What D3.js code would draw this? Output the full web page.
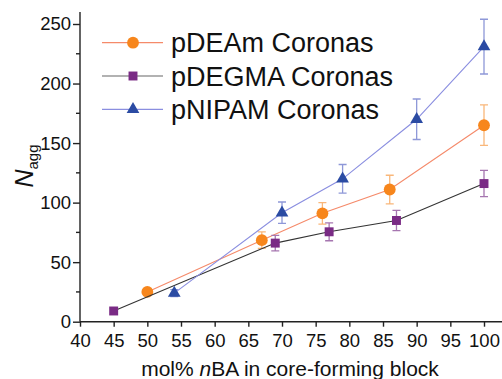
<!DOCTYPE html>
<html>
<head>
<meta charset="utf-8">
<script src="https://cdn.jsdelivr.net/npm/d3@7"></script>
<style>
  body { margin: 0; background: #fff; }
  text { font-family: "Liberation Sans", Arial, sans-serif; }
</style>
</head>
<body>
<div id="chart"></div>
<script>
// series data: x = mol% nBA, y = Nagg, e = error
const deamX = [50, 67, 76, 86, 100];
const deamY = [25, 68.5, 91, 111, 165];
const deamErr = [0, 7, 9, 12, 17];

const degmaX = [45, 69, 77, 87, 100];
const degmaY = [9, 66, 75.5, 85, 116];
const degmaErr = [0, 6.5, 7.5, 8.5, 11];

const nipamX = [54, 70, 79, 90, 100];
const nipamY = [24, 91.5, 120, 170, 231];
const nipamErr = [3, 9, 12, 17, 23];

const seriesNames = ["pDEAm Coronas", "pDEGMA Coronas", "pNIPAM Coronas"];
const xTicks = [40, 45, 50, 55, 60, 65, 70, 75, 80, 85, 90, 95, 100];
const yTicks = [0, 50, 100, 150, 200, 250];
const yMinorTicks = [25, 75, 125, 175, 225];

const W = 502, H = 379;
const margin = {left: 80, top: 12, right: 0, bottom: 57};

const x = d3.scaleLinear().domain([40, 100]).range([80, 484]);
const y = d3.scaleLinear().domain([0, 250]).range([321.7, 24]);

const svg = d3.select("#chart").append("svg")
  .attr("width", W).attr("height", H);

// axes
const xAxis = d3.axisBottom(x).tickValues(xTicks).tickSize(5).tickSizeOuter(0);
const gx = svg.append("g").attr("transform", "translate(0," + y(0) + ")").call(xAxis);
gx.select(".domain").attr("d", "M" + x(40) + ",0H" + W);

const yAxis = d3.axisLeft(y).tickValues(yTicks).tickSize(7).tickSizeOuter(0);
const gy = svg.append("g").attr("transform", "translate(" + x(40) + ",0)").call(yAxis);
gy.select(".domain").attr("d", "M0," + y(0) + "V" + margin.top);
gy.selectAll(".minor").data(yMinorTicks).enter().append("line")
  .attr("class", "minor").attr("x1", -4).attr("x2", 0)
  .attr("y1", d => y(d)).attr("y2", d => y(d)).attr("stroke", "#000");

[gx, gy].forEach(g => {
  g.selectAll("path, line").attr("stroke", "#222").attr("stroke-width", 1.4);
  g.selectAll("text").attr("font-size", 18.5).attr("fill", "#111");
});
gx.selectAll("text").attr("dy", "0.95em");
gy.selectAll("text").attr("x", -9);

// axis titles
const xt = svg.append("text").attr("x", 290).attr("y", 376)
  .attr("text-anchor", "middle").attr("font-size", 21).attr("fill", "#111");
xt.append("tspan").text("mol% ");
xt.append("tspan").attr("font-style", "italic").text("n");
xt.append("tspan").text("BA in core-forming block");

const yt = svg.append("text").attr("transform", "translate(33,166) rotate(-90)")
  .attr("text-anchor", "middle").attr("font-size", 25).attr("fill", "#111");
yt.append("tspan").attr("font-style", "italic").text("N");
yt.append("tspan").attr("font-size", 15).attr("dy", 5).text("agg");

const series = [
  {xs: deamX, ys: deamY, es: deamErr, line: "#f58a6a", mark: "#f7861c", err: "#f9b77a", shape: d3.symbolCircle, size: 110},
  {xs: degmaX, ys: degmaY, es: degmaErr, line: "#333", mark: "#7a2b85", err: "#a676b0", shape: d3.symbolSquare, size: 80},
  {xs: nipamX, ys: nipamY, es: nipamErr, line: "#8a8ee0", mark: "#2b4ba3", err: "#8e98d8", shape: d3.symbolTriangle, size: 70}
];

const line = d3.line().x(d => x(d[0])).y(d => y(d[1]));

series.forEach(s => {
  const pts = s.xs.map((v, i) => [v, s.ys[i], s.es[i]]);
  const g = svg.append("g");
  // error bars
  pts.filter(d => d[2] > 0).forEach(d => {
    const cx = x(d[0]), t = y(d[1] + d[2]), b = y(d[1] - d[2]);
    g.append("path")
      .attr("d", "M" + cx + "," + t + "V" + b + "M" + (cx - 4) + "," + t + "H" + (cx + 4) + "M" + (cx - 4) + "," + b + "H" + (cx + 4))
      .attr("stroke", s.err).attr("stroke-width", 1.3).attr("fill", "none");
  });
  g.append("path").datum(pts).attr("d", line)
    .attr("stroke", s.line).attr("stroke-width", 1.1).attr("fill", "none");
  g.selectAll(".m").data(pts).enter().append("path")
    .attr("transform", d => "translate(" + x(d[0]) + "," + y(d[1]) + ")")
    .attr("d", d3.symbol().type(s.shape).size(s.size))
    .attr("fill", s.mark);
});

// legend
const legY = [42.7, 76, 109.3];
series.forEach((s, i) => {
  const lg = svg.append("g").attr("transform", "translate(0," + legY[i] + ")");
  lg.append("line").attr("x1", 102).attr("x2", 163).attr("y1", 0).attr("y2", 0)
    .attr("stroke", i === 1 ? "#999" : s.line).attr("stroke-width", 1.3);
  lg.append("path").attr("transform", "translate(133,0)")
    .attr("d", d3.symbol().type(s.shape).size(s.size)).attr("fill", s.mark);
  lg.append("text").attr("x", 171).attr("y", 9.5).attr("font-size", 27)
    .attr("fill", "#111").text(seriesNames[i]);
});
</script>
</body>
</html>
